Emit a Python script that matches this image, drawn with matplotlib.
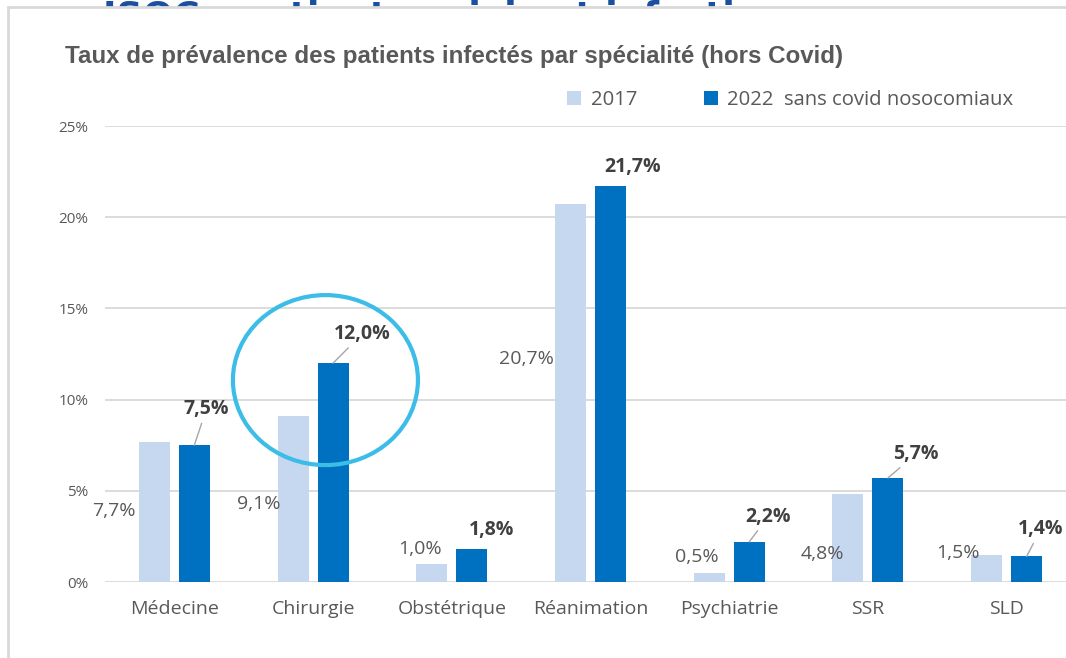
import numpy as np
import matplotlib
matplotlib.use("Agg")
import matplotlib.pyplot as plt
from matplotlib.patches import Ellipse, Rectangle

categories = ["Médecine", "Chirurgie", "Obstétrique", "Réanimation", "Psychiatrie", "SSR", "SLD"]
vals_2017 = [7.7, 9.1, 1.0, 20.7, 0.5, 4.8, 1.5]
vals_2022 = [7.5, 12.0, 1.8, 21.7, 2.2, 5.7, 1.4]
series_names = ["2017", "2022  sans covid nosocomiaux"]
yticks = [0, 5, 10, 15, 20, 25]

light = "#C5D8EF"
dark = "#0070C0"
grid_c = "#D9D9D9"
text_c = "#595959"
bold_c = "#404040"
ring_c = "#3BBDE8"

# label offsets in pixels (layout only)
off_2017 = [(-41, -69), (-34, -88), (-12, 15), (-44, -155), (-12, 16), (-26, -60), (-29, 2)]
off_2022 = [(12, 36), (29, 29), (20, 19), (22, 19), (19, 25), (28, 24), (14, 27)]
leader_2022 = [True, True, False, False, True, True, True]

W, H = 1066, 658
fig = plt.figure(figsize=(W / 100, H / 100), dpi=100)
fig.patch.set_facecolor("white")

# partially hidden heading behind the chart frame
fig.text(103 / W, 1 - 27 / H, "ISOC : patients suivis et infection", fontsize=26,
         fontweight="bold", color="#1B4F9F", ha="left", va="baseline", zorder=-2,
         family="DejaVu Sans")
fig.add_artist(Rectangle((8 / W, -0.2), 1.3, 1.2 - 7 / H, transform=fig.transFigure,
                         facecolor="white", edgecolor=grid_c, lw=2, zorder=-1))

ax = fig.add_axes([105 / W, 76 / H, 971 / W, 456 / H])
ax.patch.set_visible(False)
x = np.arange(len(categories))
bw = 0.2235
sh = 0.144
ax.bar(x - sh, vals_2017, bw, color=light, label=series_names[0], zorder=2)
ax.bar(x + sh, vals_2022, bw, color=dark, label=series_names[1], zorder=2)

ax.set_xlim(-0.5, len(categories) - 0.5)
ax.set_ylim(0, 25)
ax.set_yticks(yticks)
ax.set_yticklabels([f"{t}%" for t in yticks], family="Open Sans", fontsize=11, color=text_c)
ax.set_xticks(x)
ax.set_xticklabels(categories, family="Open Sans", fontsize=14, color=text_c)
ax.tick_params(axis="y", length=0, pad=12)
ax.tick_params(axis="x", length=0, pad=13)
for s in ax.spines.values():
    s.set_visible(False)
ax.yaxis.grid(True, color=grid_c, lw=1.3, zorder=0)
ax.set_axisbelow(True)

for i, v in enumerate(vals_2017):
    ax.annotate(f"{v:.1f}%".replace(".", ","), xy=(x[i] - sh, v), xytext=off_2017[i],
                textcoords="offset pixels", ha="center", va="center",
                family="Open Sans", fontsize=14, color=text_c)

for i, v in enumerate(vals_2022):
    props = dict(arrowstyle="-", color="#A6A6A6", lw=1, shrinkA=1, shrinkB=0) if leader_2022[i] else None
    ax.annotate(f"{v:.1f}%".replace(".", ","), xy=(x[i] + sh, v), xytext=off_2022[i],
                textcoords="offset pixels", ha="center", va="center",
                family="Open Sans", fontsize=14, fontweight="bold", color=bold_c,
                arrowprops=props, annotation_clip=False)

ax.add_patch(Ellipse((1.089, 11.07), 1.334, 9.32, fill=False, edgecolor=ring_c, lw=3, zorder=5))

fig.text(65 / W, 1 - 56 / H, "Taux de prévalence des patients infectés par spécialité (hors Covid)",
         family="Liberation Sans", fontsize=17.4, fontweight="bold",
         color=text_c, ha="left", va="center")

leg = ax.legend(loc="center left", bbox_to_anchor=(549 / W, 1 - 100 / H), bbox_transform=fig.transFigure,
                ncol=2, frameon=False, handlelength=0.7, handleheight=0.7, handletextpad=0.45,
                columnspacing=3.3, prop={"family": "Open Sans", "size": 14.6})
for t in leg.get_texts():
    t.set_color(text_c)

fig.savefig("out.png", dpi=100)
